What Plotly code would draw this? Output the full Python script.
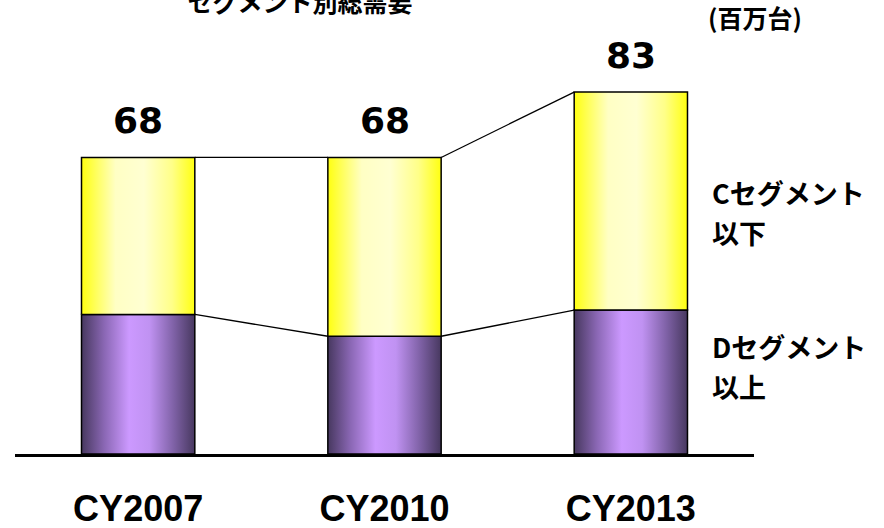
import plotly.graph_objects as go

# Demand by segment (million units)
years = ["CY2007", "CY2010", "CY2013"]
seg_d_above = [32, 27, 33]   # Dセグメント以上
seg_c_below = [36, 41, 50]   # Cセグメント以下
seg_names = [["Dセグメント", "以上"], ["Cセグメント", "以下"]]

totals = [d + c for d, c in zip(seg_d_above, seg_c_below)]

BAR_W = 0.46
JP_FONT = "Noto Sans CJK JP"
NUM_FONT = "Liberation Sans, Arial, sans-serif"
TOTAL_FONT = "DejaVu Sans, sans-serif"

purple_grad = dict(
    type="horizontal",
    colorscale=[[0.0, "#47385f"], [0.2, "#8a67b4"], [0.42, "#cc99ff"],
                [0.6, "#c092f2"], [0.82, "#7d60a4"], [1.0, "#47385f"]],
)
yellow_grad = dict(
    type="horizontal",
    colorscale=[[0.0, "#ffff10"], [0.3, "#ffffc4"], [0.55, "#ffffd2"],
                [0.8, "#ffff88"], [1.0, "#ffff10"]],
)

fig = go.Figure()

# stacked bars drawn as filled polygons so each one can carry its own gradient
for i, (d, c) in enumerate(zip(seg_d_above, seg_c_below)):
    x0, x1 = i - BAR_W / 2, i + BAR_W / 2
    fig.add_trace(go.Scatter(
        x=[x0, x1, x1, x0, x0], y=[0, 0, d, d, 0],
        mode="lines", fill="toself", fillgradient=purple_grad,
        line=dict(color="black", width=1.5), hoverinfo="skip",
    ))
    fig.add_trace(go.Scatter(
        x=[x0, x1, x1, x0, x0], y=[d, d, d + c, d + c, d],
        mode="lines", fill="toself", fillgradient=yellow_grad,
        line=dict(color="black", width=1.5), hoverinfo="skip",
    ))

# connector lines between neighbouring bars
for i in range(len(years) - 1):
    xa, xb = i + BAR_W / 2, i + 1 - BAR_W / 2
    for lvl in (totals, seg_d_above):
        fig.add_trace(go.Scatter(
            x=[xa, xb], y=[lvl[i], lvl[i + 1]], mode="lines",
            line=dict(color="black", width=1.3), hoverinfo="skip",
        ))

annotations = []
for i, t in enumerate(totals):
    annotations.append(dict(
        x=i, y=t, xref="x", yref="y", text=str(t), showarrow=False,
        yanchor="bottom", yshift=14,
        font=dict(family=TOTAL_FONT, size=36, color="black", weight="bold"),
    ))

# segment labels on the right, one annotation per line
label_rows = [(0.2541, 0.1596), (0.6182, 0.5236)]
for lines, rows in zip(seg_names, label_rows):
    for line, ypos in zip(lines, rows):
        annotations.append(dict(
            x=0.9405, y=ypos, xref="paper", yref="paper", text=line,
            showarrow=False, xanchor="left", yanchor="middle", align="left",
            font=dict(family=JP_FONT, size=27, color="black", weight="bold"),
        ))

annotations.append(dict(
    x=1.001, y=1.033, xref="paper", yref="paper", text="(百万台)",
    showarrow=False, xanchor="center", yanchor="middle",
    font=dict(family=JP_FONT, size=25, color="black", weight="bold"),
))

fig.update_layout(
    width=884, height=528,
    margin=dict(l=15, r=130, t=31, b=74),
    paper_bgcolor="white", plot_bgcolor="white",
    showlegend=False,
    title=dict(
        text="セグメント別総需要", x=300 / 884, xanchor="center",
        y=0.993, yref="container", yanchor="middle",
        font=dict(family=JP_FONT, size=25, color="black", weight="bold"),
    ),
    annotations=annotations,
    xaxis=dict(
        range=[-0.5, len(years) - 0.5], tickvals=list(range(len(years))),
        ticktext=years, showgrid=False, zeroline=False,
        showline=True, linecolor="black", linewidth=3, ticks="",
        tickfont=dict(family=NUM_FONT, size=36, color="black", weight="bold"),
        ticklabelstandoff=21, automargin=False, fixedrange=True,
    ),
    yaxis=dict(range=[0, 97], visible=False, fixedrange=True,
               automargin=False),
)

fig.write_html("out.html")
